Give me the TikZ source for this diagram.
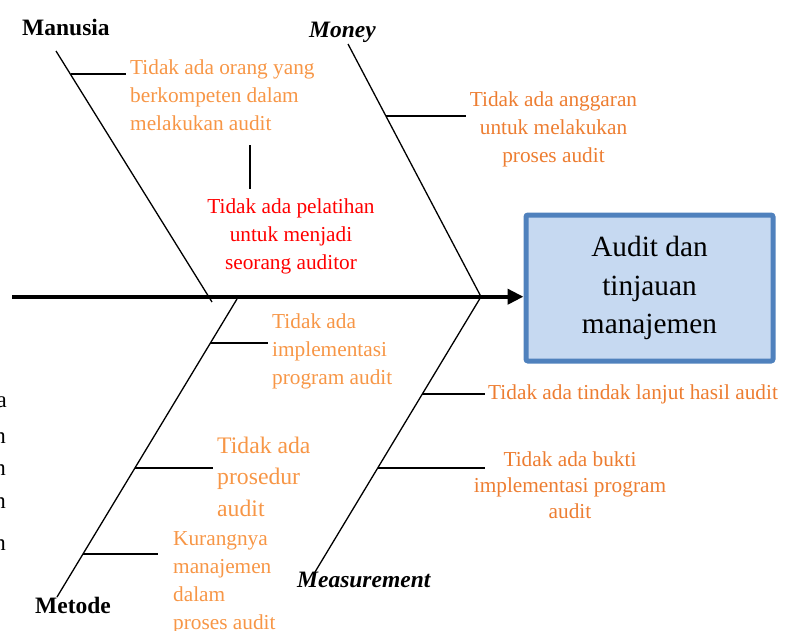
\documentclass[tikz,border=0pt]{standalone}
\usepackage{fontspec}
\setmainfont{Liberation Serif}
\usetikzlibrary{arrows.meta}
\definecolor{causeorange}{HTML}{F79646}
\definecolor{causeamber}{HTML}{ED7D31}
\definecolor{effectfill}{HTML}{C6D9F1}
\definecolor{effectline}{HTML}{4F81BD}

\begin{document}
\begin{tikzpicture}[
    x=1pt, y=-1pt,
    >=Latex,
    bone/.style={line width=1.3pt, draw=black},
    rib/.style={line width=2pt, draw=black},
    spine/.style={line width=4pt, -{Triangle[length=16pt,width=15pt]}},
    category/.style={font=\fontsize{23.5}{28}\selectfont\bfseries, anchor=base west, inner sep=0pt},
    cause/.style={font=\fontsize{21.3}{28}\selectfont, text=causeorange, align=left, anchor=base west, inner sep=4pt},
    stray/.style={font=\fontsize{23}{28}\selectfont, anchor=base east, inner sep=0pt},
    effect/.style={rectangle, draw=effectline, fill=effectfill, line width=5pt, rounded corners=2pt, align=center,
      minimum width=247pt, minimum height=146pt, text depth=6pt, font=\fontsize{29.3}{38.5}\selectfont}
  ]
  \useasboundingbox (0,0) rectangle (787,630);
  \clip (0,0) rectangle (787,630);

  % cut-off letters of the page text on the left
  \node[stray] (s1) at (7,407) {a};
  \node[stray] (s2) at (6,443) {n};
  \node[stray] (s3) at (6,475) {n};
  \node[stray] (s4) at (6,508) {n};
  \node[stray] (s5) at (6,550) {n};

  % head
  \node[effect] (effect) at (649.5,288) {Audit dan\\tinjauan\\manajemen};

  % categories
  \node[category] (manusia) at (22,35) {Manusia};
  \node[category, font=\fontsize{23.5}{28}\selectfont\bfseries\itshape] (money) at (309,37) {Money};
  \node[category] (metode) at (35,613) {Metode};
  \node[category, font=\fontsize{23.5}{28}\selectfont\bfseries\itshape] (measurement) at (297,587) {Measurement};

  % causes (placed at the baseline of their last line)
  \node[cause] (orang) at (126,130) {Tidak ada orang yang\\berkompeten dalam\\melakukan audit};
  \node[cause, text=red, align=center, anchor=base, inner ysep=9pt] (pelatihan) at (291,269) {Tidak ada pelatihan\\untuk menjadi\\seorang auditor};
  \node[cause, text=causeamber, align=center, anchor=base] (anggaran) at (553.5,162) {Tidak ada anggaran\\untuk melakukan\\proses audit};
  \node[cause] (implementasi) at (268,384) {Tidak ada\\implementasi\\program audit};
  \node[cause, font=\fontsize{23.7}{31.5}\selectfont] (prosedur) at (213,516) {Tidak ada\\prosedur\\audit};
  \node[cause, inner xsep=15pt] (kurang) at (158,629) {Kurangnya\\manajemen\\dalam\\proses audit};
  \node[cause, text=causeamber, inner sep=3pt] (tindak) at (485,399) {Tidak ada tindak lanjut hasil audit};
  \node[cause, text=causeamber, align=center, anchor=base, font=\fontsize{21.3}{26}\selectfont] (bukti) at (570,518) {Tidak ada bukti\\implementasi program\\audit};

  % spine and bones
  \coordinate (tail) at (12,296.7);
  \coordinate (joint) at (481,296.7);
  \coordinate (manusiatop) at (56,51);
  \coordinate (manusiafoot) at (212,302);
  \coordinate (moneytop) at (348,44);
  \coordinate (metodetop) at (237,299);
  \coordinate (metodefoot) at (57,597);
  \coordinate (measurementfoot) at (315,572);
  \coordinate (link) at (250,145);

  \draw[spine] (tail) -- (tail -| effect.west);
  \draw[bone] (manusiatop) -- (manusiafoot) coordinate[pos=0.093] (r1);
  \draw[bone] (moneytop) -- (joint) coordinate[pos=0.286] (r2);
  \draw[bone] (metodetop) -- (metodefoot)
    coordinate[pos=0.149] (r3) coordinate[pos=0.566] (r4) coordinate[pos=0.856] (r5);
  \draw[bone] (joint) -- (measurementfoot) coordinate[pos=0.355] (r6) coordinate[pos=0.622] (r7);

  % ribs
  \draw[rib] (r1) -- (r1 -| orang.west);
  \draw[rib] (link) -- (link |- pelatihan.north);
  \draw[rib] (r2) -- (r2 -| anggaran.west);
  \draw[rib] (r3) -- (r3 -| implementasi.west);
  \draw[rib] (r4) -- (r4 -| prosedur.west);
  \draw[rib] (r5) -- (r5 -| kurang.west);
  \draw[rib] (r6) -- (r6 -| tindak.west);
  \draw[rib] (r7) -- (r7 -| tindak.west);
\end{tikzpicture}
\end{document}
